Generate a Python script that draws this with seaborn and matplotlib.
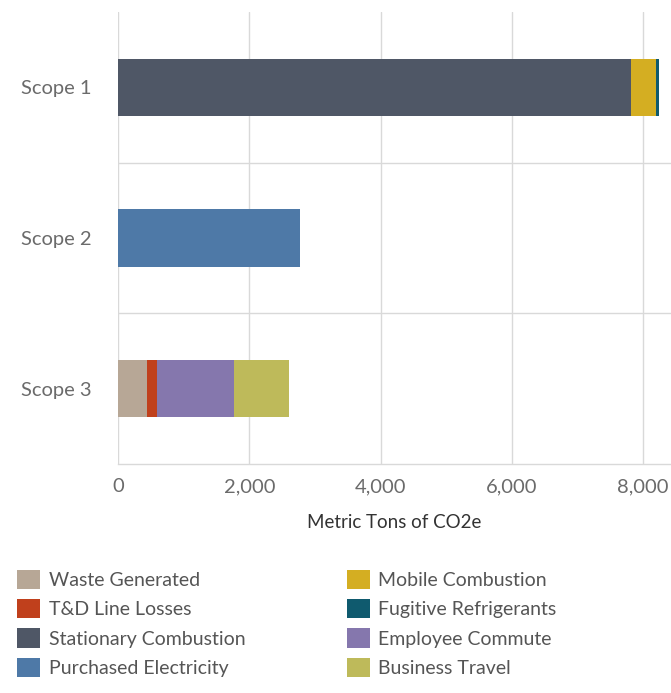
import matplotlib
matplotlib.use("Agg")
import matplotlib.pyplot as plt
import seaborn as sns
import pandas as pd
from matplotlib.patches import Patch

# ---- data ----
scopes = ["Scope 1", "Scope 2", "Scope 3"]
categories = ["Stationary Combustion", "Mobile Combustion", "Fugitive Refrigerants",
              "Purchased Electricity",
              "Waste Generated", "T&D Line Losses", "Employee Commute", "Business Travel"]
category_scope = ["Scope 1", "Scope 1", "Scope 1",
                  "Scope 2",
                  "Scope 3", "Scope 3", "Scope 3", "Scope 3"]
values = [7810, 385, 50, 2765, 440, 150, 1180, 830]

legend_col1 = ["Waste Generated", "T&D Line Losses", "Stationary Combustion", "Purchased Electricity"]
legend_col2 = ["Mobile Combustion", "Fugitive Refrigerants", "Employee Commute", "Business Travel"]
xticks = [0, 2000, 4000, 6000, 8000]
xtick_labels = ["0", "2,000", "4,000", "6,000", "8,000"]

palette = {
    "Waste Generated": "#B7A796",
    "T&D Line Losses": "#C0401C",
    "Stationary Combustion": "#4F5766",
    "Purchased Electricity": "#4E79A7",
    "Mobile Combustion": "#D4AE22",
    "Fugitive Refrigerants": "#0F5A6E",
    "Employee Commute": "#8577AD",
    "Business Travel": "#BEBA5A",
}

df = pd.DataFrame({"scope": category_scope, "category": categories, "value": values})
df["end"] = df.groupby("scope")["value"].cumsum()

sns.set_style("white")
plt.rcParams["font.family"] = ["Lato", "DejaVu Sans"]

W, H = 671, 693
fig = plt.figure(figsize=(W / 100, H / 100), dpi=100)
ax = fig.add_axes([118 / W, 1 - 464 / H, (W - 118) / W, (464 - 12) / H])

# draw stacked bars: longest cumulative first so shorter segments overlay
for _, row in df.sort_values("end", ascending=False).iterrows():
    sub = df[df["category"] == row["category"]]
    sns.barplot(data=sub, x="end", y="scope", order=scopes, orient="h",
                color=palette[row["category"]], saturation=1, width=0.38,
                linewidth=0, ax=ax, zorder=3)

ax.set_xlim(0, 8423)
ax.set_ylim(2.5, -0.5)
ax.set_xticks(xticks)
ax.set_xticklabels(xtick_labels)
ax.set_yticks(range(len(scopes)))
ax.set_yticklabels(scopes)

grid_c = "#D9D9D9"
for x in xticks:
    ax.axvline(x, color=grid_c, lw=1, zorder=1)
for y in [0.5, 1.5]:
    ax.axhline(y, color=grid_c, lw=1, zorder=1)
for s in ["top", "right", "left"]:
    ax.spines[s].set_visible(False)
ax.spines["bottom"].set_color(grid_c)
ax.spines["bottom"].set_linewidth(1)

ax.tick_params(axis="x", length=6, width=1, color=grid_c, pad=4,
               labelsize=14.5, labelcolor="#6B6B6B")
ax.tick_params(axis="y", length=0, pad=19, labelsize=14.5, labelcolor="#6B6B6B")
ax.set_ylabel("")
ax.set_xlabel("Metric Tons of CO2e", fontsize=13.5, color="#333333", labelpad=14)

fs = 14
common = dict(loc="upper left", frameon=False, fontsize=fs, handlelength=1.18,
              handleheight=1.13, handletextpad=0.46, labelspacing=0.52,
              borderpad=0, borderaxespad=0, labelcolor="#555555")
h1 = [Patch(facecolor=palette[c], edgecolor="none") for c in legend_col1]
h2 = [Patch(facecolor=palette[c], edgecolor="none") for c in legend_col2]
fig.legend(h1, legend_col1, bbox_to_anchor=(16.7 / W, 1 - 570 / H), **common)
fig.legend(h2, legend_col2, bbox_to_anchor=(346.6 / W, 1 - 570 / H), **common)

fig.savefig("out.png", dpi=100)
